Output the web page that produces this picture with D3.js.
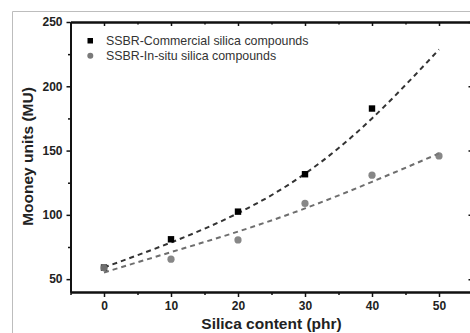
<!DOCTYPE html>
<html><head><meta charset="utf-8">
<script src="https://cdn.jsdelivr.net/npm/d3@7"></script>
<style>
html,body{margin:0;padding:0;background:#fff;overflow:hidden}
svg{display:block}
text{font-family:"Liberation Sans",Arial,sans-serif}
</style></head>
<body>
<svg id="c" width="470" height="333"></svg>
<script>
// Data
const silica = [0, 10, 20, 30, 40, 50];
const commercial = [59, 81, 102.5, 131.6, 182.7, null];
const inSitu = [58.8, 65.5, 80.5, 108.9, 130.9, 145.8];
// dashed fit lines, read at each x
const commercialFit = [59.1, 78.5, 101.3, 132, 175, 228.6];
const inSituFit = [55.2, 71, 87, 105, 125.7, 147.7];
const xTicks = [0, 10, 20, 30, 40, 50];
const xMinor = [-5, 5, 15, 25, 35, 45, 55];
const yTicks = [50, 100, 150, 200, 250];
const yMinor = [75, 125, 175, 225];
const seriesNames = ["SSBR-Commercial silica compounds", "SSBR-In-situ silica compounds"];

const svg = d3.select("#c");
const mL = 70.5, mR = 472.5, mT = 22, mB = 292;
const x = d3.scaleLinear().domain([-5, 55]).range([mL, mR]);
const y = d3.scaleLinear().domain([40, 250]).range([mB, mT]);

// outer gray frame
svg.append("path").attr("d", "M12.5,333 V11.5 H470").attr("fill", "none").attr("stroke", "#bdbdbd").attr("stroke-width", 1);

// fit curves
const line = d3.line().x((d, i) => x(silica[i])).y(d => y(d)).curve(d3.curveNatural);
svg.append("path").datum(inSituFit).attr("d", line).attr("fill", "none")
  .attr("stroke", "#6e6e6e").attr("stroke-width", 2).attr("stroke-dasharray", "5,4");
svg.append("path").datum(commercialFit).attr("d", line).attr("fill", "none")
  .attr("stroke", "#333").attr("stroke-width", 2).attr("stroke-dasharray", "5,4");

// markers
svg.selectAll("rect.p").data(commercial.map((v, i) => [silica[i], v]).filter(d => d[1] != null))
  .enter().append("rect").attr("class", "p").attr("x", d => x(d[0]) - 3.2).attr("y", d => y(d[1]) - 3.2)
  .attr("width", 6.4).attr("height", 6.4).attr("fill", "#000");
svg.selectAll("circle.p").data(inSitu.map((v, i) => [silica[i], v]).filter(d => d[1] != null))
  .enter().append("circle").attr("class", "p").attr("cx", d => x(d[0])).attr("cy", d => y(d[1]))
  .attr("r", 3.6).attr("fill", "#7a7a7a").attr("fill-opacity", 0.9);

// axes
function styleAxis(g) {
  g.select(".domain").attr("stroke", "#111").attr("stroke-width", 1.8);
  g.selectAll(".tick line").attr("stroke", "#111").attr("stroke-width", 1.5);
  g.selectAll(".tick text").attr("font-size", 12).attr("font-weight", "bold").attr("fill", "#222")
   .attr("font-family", "'Liberation Sans',Arial,sans-serif");
}
// bottom
svg.append("g").attr("transform", `translate(0,${mB})`)
  .call(d3.axisBottom(x).tickValues(xTicks).tickSize(5).tickSizeOuter(0).tickPadding(4).tickFormat(d3.format("d")))
  .call(styleAxis);
svg.append("g").attr("transform", `translate(0,${mB})`)
  .call(d3.axisBottom(x).tickValues(xMinor).tickSize(3).tickSizeOuter(0).tickFormat(""))
  .call(styleAxis);
// top
svg.append("g").attr("transform", `translate(0,${mT})`)
  .call(d3.axisBottom(x).tickValues(xTicks).tickSize(4).tickSizeOuter(0).tickFormat(""))
  .call(styleAxis);
svg.append("g").attr("transform", `translate(0,${mT})`)
  .call(d3.axisBottom(x).tickValues(xMinor).tickSize(2.5).tickSizeOuter(0).tickFormat(""))
  .call(styleAxis);
// left
svg.append("g").attr("transform", `translate(${mL},0)`)
  .call(d3.axisLeft(y).tickValues(yTicks).tickSize(4).tickSizeOuter(0).tickPadding(4).tickFormat(d3.format("d")))
  .call(styleAxis);
svg.append("g").attr("transform", `translate(${mL},0)`)
  .call(d3.axisLeft(y).tickValues(yMinor).tickSize(2.5).tickSizeOuter(0).tickFormat(""))
  .call(styleAxis);
// right
svg.append("g").attr("transform", `translate(${mR},0)`)
  .call(d3.axisLeft(y).tickValues(yTicks).tickSize(4).tickSizeOuter(0).tickFormat(""))
  .call(styleAxis);
svg.append("g").attr("transform", `translate(${mR},0)`)
  .call(d3.axisLeft(y).tickValues(yMinor).tickSize(2).tickSizeOuter(0).tickFormat(""))
  .call(g => { styleAxis(g); g.selectAll(".tick line").attr("stroke", "#bbb"); });

// axis titles
svg.append("text").attr("x", 271.5).attr("y", 328.5).attr("text-anchor", "middle")
  .attr("font-size", 15.5).attr("font-weight", "bold").attr("fill", "#222").text("Silica content (phr)");
svg.append("text").attr("transform", "translate(32.5,156.5) rotate(-90)").attr("text-anchor", "middle")
  .attr("font-size", 15.5).attr("font-weight", "bold").attr("fill", "#222").text("Mooney units (MU)");

// legend
const lg = svg.append("g");
lg.append("rect").attr("x", 87.5).attr("y", 38).attr("width", 5.5).attr("height", 5.5).attr("fill", "#000");
lg.append("circle").attr("cx", 90.3).attr("cy", 55.7).attr("r", 3).attr("fill", "#7a7a7a");
lg.selectAll("text").data(seriesNames).enter().append("text")
  .attr("x", 106).attr("y", (d, i) => 45 + i * 15).attr("font-size", 12.4).attr("fill", "#333").text(d => d);
</script>
</body></html>
